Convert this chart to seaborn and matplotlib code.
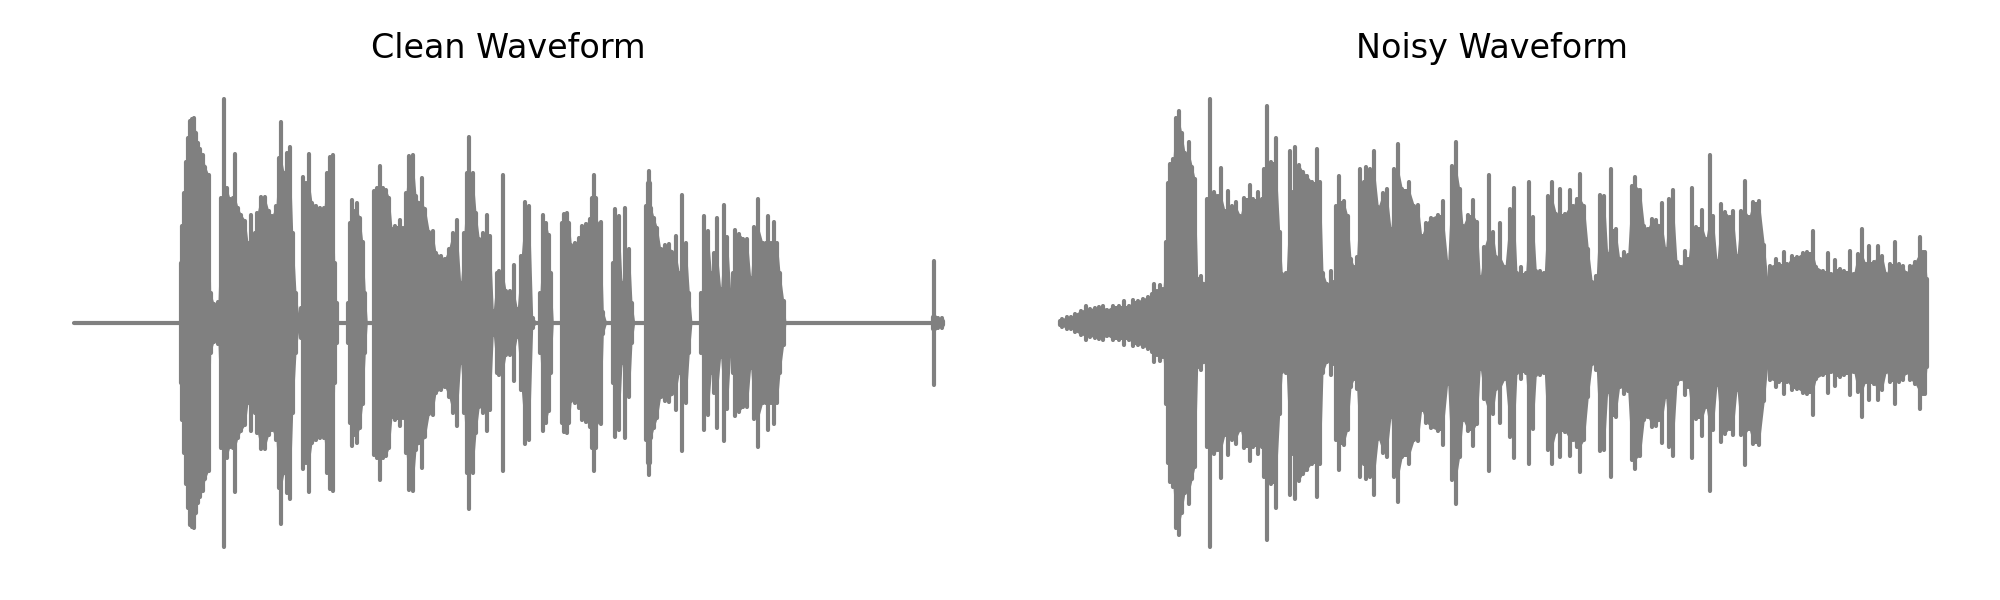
import pandas as pd
import matplotlib
matplotlib.use('Agg')
import matplotlib.pyplot as plt
import seaborn as sns

# Envelope of each waveform (time, amplitude)
clean_time = [0, 105.3, 106.7, 108, 110, 112, 114, 116, 118, 120, 122, 124, 126, 128.7, 131.3, 134.7, 136.7, 140, 144, 147.3,
              150, 152.7, 156, 158.7, 161.3, 164, 167.3, 171.3, 174, 177.3, 180.7, 183.3, 186.7, 190.7, 194.7, 198, 202, 204.7, 207.3, 210,
              212.7, 216, 218.7, 222, 224.7, 226.7, 229.3, 232, 235.3, 238, 242, 246, 250, 253.3, 256, 258.7, 260.7, 262.7, 264.7, 272.7,
              274, 276, 278, 280.7, 283.3, 286, 288.7, 291.3, 293.3, 298.7, 300, 302.7, 306, 308.7, 312, 315.3, 318, 321.3, 326, 329.3,
              332, 335.3, 338.7, 342, 344.7, 348, 351.3, 355.3, 358.7, 362, 366.7, 370.7, 374.7, 378.7, 383.3, 386.7, 390, 393.3, 395.3, 398.7,
              402, 405.3, 409.3, 412.7, 416, 419.3, 422.7, 425.3, 428.7, 432, 436, 440, 443.3, 447.3, 451.3, 455.3, 458.7, 463.3, 466, 469.3,
              472, 474.7, 476.7, 479.3, 486.7, 488, 490, 492.7, 495.3, 497.3, 501.3, 505.3, 508, 512, 516, 518, 520, 522, 523.3, 526.7, 529.3, 532.7,
              536.7, 538.7, 541.3, 543.3, 545.3, 548, 551.3, 555.3, 558, 560.7, 570, 572, 573.5, 574.7, 576, 577.3, 580, 583.3, 586.7, 590.7, 594.7, 598,
              601.7, 605.3, 608.3, 612, 615.3, 618, 625.3, 627.3, 630, 634, 637.3, 640, 643.3, 646.7, 649.7, 653.3, 656.7, 659.3, 661.3, 665.3,
              669.3, 673.3, 676.7, 680, 684.3, 688.7, 692, 694.3, 696.7, 699.7, 703.3, 706, 709.7, 712, 858, 859, 860, 861, 862, 864, 868, 869.3]
clean_amp = [0, 0, 60, 97, 130, 161, 185, 202, 204, 205, 190, 180, 174, 168, 156, 148, 30, 19, 21, 125,
             224, 135, 124, 125, 169, 115, 108, 102, 80, 108, 90, 110, 126, 126, 112, 107, 117, 165, 201, 150,
             170, 176, 90, 30, 8, 15, 146, 140, 169, 120, 117, 115, 115, 150, 166, 168, 60, 20, 0, 0,
             20, 100, 123, 112, 120, 105, 81, 30, 0, 0, 132, 135, 157, 135, 133, 125, 94, 97, 103, 95,
             130, 167, 168, 127, 120, 145, 114, 91, 92, 70, 67, 64, 74, 90, 103, 40, 90, 150, 186, 150,
             110, 84, 90, 108, 87, 12, 50, 52, 148, 32, 32, 58, 14, 67, 121, 117, 5, 0, 30, 108,
             100, 88, 50, 0, 0, 100, 109, 110, 100, 78, 80, 85, 97, 99, 104, 125, 148, 125, 100, 101, 11, 0,
             0, 60, 114, 97, 107, 40, 115, 74, 20, 0, 0, 117, 140, 152, 140, 115, 105, 95, 74, 78, 79, 71,
             87, 50, 128, 80, 30, 0, 0, 30, 107, 92, 50, 70, 105, 34, 118, 86, 31, 50, 93, 89,
             84, 84, 45, 96, 124, 80, 80, 107, 80, 101, 80, 50, 22, 0, 0, 6, 62, 6, 5, 5, 5, 2]

noisy_time = [2, 4.3, 9, 13, 17, 23, 27.7, 32.3, 37, 41, 45, 49, 55, 61, 66.3, 71, 75, 80.3, 85, 90.3,
              94.3, 96.3, 99, 101.7, 105, 108.3, 110.3, 112.3, 115, 117.7, 120.7, 123.7, 127, 131, 134.3, 137, 139.7, 143, 146.3, 149,
              152.3, 156.3, 159.7, 163.3, 167, 170.3, 174.3, 177.7, 182.3, 186.3, 192, 195.3, 199.7, 203.7, 206.3, 209.3, 213, 218, 221.7, 224.3,
              228.3, 231.7, 234.3, 237.3, 241, 245, 249, 253.7, 259, 262.3, 265, 269, 273, 276.3, 278.3, 281.3, 285.7, 289.7, 293, 296.3,
              298.7, 302.3, 305.7, 308.3, 312.3, 316.3, 320.3, 325, 329, 333, 336.3, 340.3, 344.3, 351, 356.3, 360.3, 363.7, 368.3, 373, 379.7,
              385, 389.7, 394.3, 398, 401.7, 405, 409.7, 415, 419, 422.3, 426.3, 431, 435, 438.3, 442.3, 447, 452.3, 456, 459, 463,
              467.7, 471.3, 475, 478.3, 481.7, 486.3, 490.3, 493.7, 498.3, 502.3, 507, 511.7, 515, 519, 522.3, 526.3, 530.3, 534.3, 538.3, 542.3,
              546.3, 549.7, 553.3, 557.7, 561.7, 565.7, 569.7, 573.7, 577, 582.3, 586.3, 589.7, 593.7, 597.7, 601, 604.3, 607.7, 611.3, 615, 619,
              623, 627, 630.3, 633.7, 637.7, 644.3, 648, 651.7, 655, 659, 663.3, 667, 671.7, 675.3, 679, 683, 687, 691, 695, 701.3,
              706.3, 709.7, 712.3, 718, 721.3, 726, 729.3, 734, 739.3, 744.7, 749.3, 754.7, 758.3, 765, 769.7, 773, 777, 782.3, 786.3, 792.3,
              795.7, 799.7, 804, 807.7, 811.3, 815.7, 819.7, 824.3, 828.3, 832.3, 837, 841, 845, 848.3, 852.3, 857, 862, 865, 867, 869]
noisy_amp = [2, 4, 6, 6, 9, 12, 17, 14, 15, 16, 17, 13, 17, 17, 22, 17, 23, 22, 24, 26,
             29, 39, 32, 38, 34, 81, 140, 159, 164, 205, 212, 190, 170, 181, 156, 144, 44, 47, 39, 124,
             224, 131, 127, 155, 112, 132, 117, 121, 107, 125, 138, 124, 131, 124, 154, 217, 161, 185, 91, 49,
             50, 172, 131, 176, 158, 151, 147, 141, 174, 141, 50, 39, 52, 41, 117, 147, 122, 107, 64, 56,
             66, 154, 141, 156, 154, 172, 116, 130, 134, 94, 154, 179, 134, 141, 117, 118, 87, 100, 105, 108,
             122, 61, 157, 181, 134, 97, 108, 123, 101, 46, 76, 148, 91, 66, 100, 56, 114, 135, 50, 56,
             50, 141, 106, 52, 52, 50, 127, 141, 109, 134, 109, 133, 117, 124, 149, 117, 74, 41, 47, 128,
             127, 69, 154, 94, 64, 71, 68, 137, 146, 133, 97, 94, 104, 103, 97, 120, 74, 124, 133, 61,
             56, 72, 64, 135, 96, 113, 84, 168, 107, 62, 119, 111, 106, 112, 67, 112, 142, 106, 121, 122,
             78, 44, 57, 64, 59, 71, 59, 67, 66, 70, 71, 92, 56, 52, 70, 49, 63, 54, 52, 72,
             49, 69, 94, 59, 77, 61, 77, 67, 49, 59, 81, 59, 57, 50, 57, 61, 86, 71, 71, 44]

titles = ['Clean Waveform', 'Noisy Waveform']
times = [clean_time, noisy_time]
amps = [clean_amp, noisy_amp]


def plot_wave(ax, t, amp, title):
    df = pd.DataFrame({'t': t, 'amp': amp})
    # lone peaks stay thin strokes, the body under them is filled
    neighbours = pd.concat([df['amp'].shift(1), df['amp'].shift(-1)], axis=1).max(axis=1)
    body = df['amp'].clip(upper=neighbours)
    ax.fill_between(df['t'], -body, body, color='gray', lw=0)

    # one vertical stroke per reading, plus the flat baseline
    strokes = pd.concat([df.assign(y=df['amp'], stroke=df.index),
                         df.assign(y=-df['amp'], stroke=df.index)])
    strokes = strokes[strokes['amp'] > 0]
    sns.lineplot(data=strokes, x='t', y='y', units='stroke', estimator=None,
                 sort=False, color='gray', lw=1.5, ax=ax)
    sns.lineplot(x=df['t'], y=df['amp'] * 0, estimator=None, color='gray',
                 lw=1.5, ax=ax)
    ax.set_xlim(-44, 913)
    ax.set_ylim(-248.5, 248.5)
    ax.set_title(title, fontsize=12, color='black', pad=5.6)
    ax.axis('off')


sns.set_style('white')
fig, axes = plt.subplots(1, 2, figsize=(10, 3))
for ax, t, amp, title in zip(axes, times, amps, titles):
    plot_wave(ax, t, amp, title)
axes[0].set_position([30 / 2000, 29 / 600, 957 / 2000, 497 / 600])
axes[1].set_position([1014 / 2000, 29 / 600, 957 / 2000, 497 / 600])
plt.savefig('out.png', dpi=200)
